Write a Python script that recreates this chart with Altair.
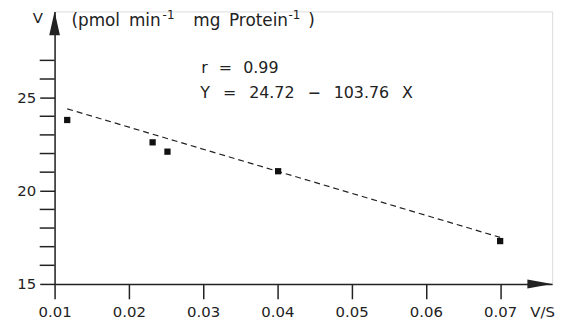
import altair as alt
import pandas as pd

v_over_s = [0.0117, 0.0232, 0.0252, 0.0401, 0.0700]
velocity = [23.8, 22.6, 22.1, 21.05, 17.3]

# drawn regression line end points (as drawn in the picture)
fit_x = [0.0117, 0.0700]
fit_y = [24.4, 17.5]

x_ticks = [0.01, 0.02, 0.03, 0.04, 0.05, 0.06, 0.07]
y_major = [15, 20, 25]
y_minor = [16, 17, 18, 19, 21, 22, 23, 24, 26, 27]

X_MIN, X_MAX = 0.01, 0.077
Y_MIN, Y_MAX = 15, 29.63

FONT = "DejaVu Sans"
INK = "#222222"

pts = pd.DataFrame({"x": v_over_s, "y": velocity})
fit = pd.DataFrame({"x": fit_x, "y": fit_y})
minor = pd.DataFrame({"y": y_minor})
up_arrow = pd.DataFrame({"x": [X_MIN], "y": [Y_MAX]})
right_arrow = pd.DataFrame({"x": [X_MAX], "y": [Y_MIN]})

xs = alt.Scale(domain=[X_MIN, X_MAX], nice=False, zero=False)
ys = alt.Scale(domain=[Y_MIN, Y_MAX], nice=False, zero=False)

x_axis = alt.Axis(values=x_ticks, format=".2f", title=None, grid=False,
                  tickSize=15, tickWidth=1.5, tickColor=INK,
                  domainColor=INK, domainWidth=1.5,
                  labelFont=FONT, labelFontSize=15, labelColor=INK,
                  labelPadding=6, labelFlush=False, labelOverlap=False)
y_axis = alt.Axis(values=y_major, format="d", title=None, grid=False,
                  tickSize=15, tickWidth=1.5, tickColor=INK,
                  domainColor=INK, domainWidth=1.5,
                  labelFont=FONT, labelFontSize=15, labelColor=INK,
                  labelPadding=4, labelFlush=False, labelOverlap=False)

base_axes = alt.Chart(pts).mark_point(opacity=0).encode(
    x=alt.X("x:Q", scale=xs, axis=x_axis),
    y=alt.Y("y:Q", scale=ys, axis=y_axis),
)

minor_ticks = alt.Chart(minor).mark_rule(color=INK, strokeWidth=1.5).encode(
    x=alt.value(-15), x2=alt.value(0), y=alt.Y("y:Q", scale=ys)
)

line = alt.Chart(fit).mark_line(color=INK, strokeWidth=1.2, strokeDash=[6, 4]).encode(
    x=alt.X("x:Q", scale=xs), y=alt.Y("y:Q", scale=ys)
)

squares = alt.Chart(pts).mark_square(size=40, color="#111111", opacity=1, filled=True).encode(
    x=alt.X("x:Q", scale=xs), y=alt.Y("y:Q", scale=ys)
)

arr_up = alt.Chart(up_arrow).mark_point(
    shape="M0,0 L0.45,2 L-0.45,2 Z", size=576, filled=True, color=INK, opacity=1
).encode(x=alt.X("x:Q", scale=xs), y=alt.Y("y:Q", scale=ys))

arr_right = alt.Chart(right_arrow).mark_point(
    shape="M0,0 L-2,-0.36 L-2,0.36 Z", size=625, filled=True, color=INK, opacity=1
).encode(x=alt.X("x:Q", scale=xs), y=alt.Y("y:Q", scale=ys))

def label(txt, px, py, align="left", size=16):
    return alt.Chart(pd.DataFrame({"t": [txt]})).mark_text(
        font=FONT, fontSize=size, color=INK, align=align, baseline="alphabetic"
    ).encode(text="t:N", x=alt.value(px), y=alt.value(py))

EN, NB, TH = "\u2002", "\u00a0", "\u2009"

t_v = label("V", -17, 12, "center", 15)
t_u0 = label("(pmol", 17, 15, "left", 17)
t_u1 = label("min", 75, 15, "left", 17)
t_s1 = label("-1", 109, 8, "left", 12)
t_u2 = label("mg", 140, 15, "left", 17)
t_u3 = label("Protein", 176, 15, "left", 17)
t_s2 = label("-1", 236, 8, "left", 12)
t_u4 = label(")", 256, 15, "left", 17)
t_r = label("r" + EN + TH + "=" + EN + TH + "0.99", 148, 62)
t_eq = label("Y" + EN + NB + "=" + EN + NB + "24.72" + EN + NB + "\u2212" + EN + NB + "103.76" + EN + NB + "X", 147, 87)
t_vs = label("V/S", 480, 308, "left", 15)

chart = alt.layer(base_axes, minor_ticks, line, squares, arr_up, arr_right,
                  t_v, t_u0, t_u1, t_s1, t_u2, t_u3, t_s2, t_u4, t_r, t_eq, t_vs).properties(
    width=502, height=275,
    padding={"left": 47, "top": 2, "right": 14, "bottom": 38},
    autosize=alt.AutoSizeParams(type="none"),
).configure_view(stroke=None).configure(background="white")

chart.save("out.html", embed_options={"renderer": "svg", "actions": False})
